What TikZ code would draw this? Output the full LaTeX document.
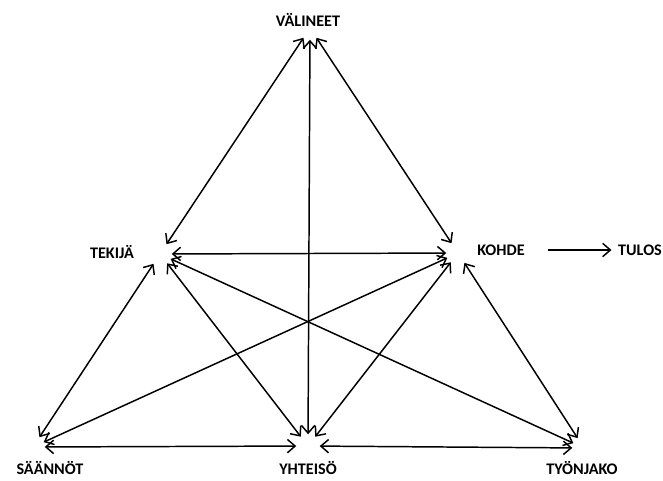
\documentclass[tikz,border=0pt]{standalone}
\usepackage{fontspec}
\setmainfont{Carlito}
\usetikzlibrary{arrows.meta}

\begin{document}
\begin{tikzpicture}[
  x=0.025cm, y=-0.025cm,
  >={Straight Barb[length=5.5pt, width=9.5pt]},
  line width=1.05pt,
  every node/.style={inner sep=0pt},
  hub/.style={circle, minimum size=0.55cm},
  lbl/.style={font=\fontsize{11.5}{13}\selectfont\bfseries},
]

% ── Frame (pixel grid of the reference) ──────────────────────────────────────
\useasboundingbox (0,0) rectangle (663,480);

% ── Hubs: empty points where the arrows meet ─────────────────────────────────
\node[hub] (vali)   at (310, 28)  {};
\node[hub] (tekija) at (160, 254) {};
\node[hub] (kohde)  at (458, 253) {};
\node[hub] (saanto) at (33, 447)  {};
\node[hub] (yhteis) at (308, 446) {};
\node[hub] (tyonj)  at (584, 448) {};

% ── Labels ───────────────────────────────────────────────────────────────────
\node[lbl] (valiL)   at (308, 20)  {VÄLINEET};
\node[lbl] (tekijaL) at (112, 252) {TEKIJÄ};
\node[lbl] (kohdeL)  at (501, 250) {KOHDE};
\node[lbl] (tulosL)  at (640, 250) {TULOS};
\node[lbl] (saantoL) at (50, 468)  {SÄÄNNÖT};
\node[lbl] (yhteisL) at (308, 468) {YHTEISÖ};
\node[lbl] (tyonjL)  at (582, 468) {TYÖNJAKO};

% ── Triangle sides and inner links (all two-way) ─────────────────────────────
\draw[<->] (tekija) -- (vali);
\draw[<->] (kohde)  -- (vali);
\draw[<->] (yhteis) -- (vali);
\draw[<->] (tekija) -- (kohde);
\draw[<->] (saanto) -- (tekija);
\draw[<->] (yhteis) -- (tekija);
\draw[<->] (tyonj)  -- (tekija);
\draw[<->] (saanto) -- (kohde);
\draw[<->] (yhteis) -- (kohde);
\draw[<->] (tyonj)  -- (kohde);
\draw[<->] (saanto) -- (yhteis);
\draw[<->] (yhteis) -- (tyonj);

% ── Outcome ──────────────────────────────────────────────────────────────────
\draw[->, shorten <=15\pgflinewidth, shorten >=4\pgflinewidth]
  (kohdeL.east) -- (tulosL.west);

\end{tikzpicture}
\end{document}
